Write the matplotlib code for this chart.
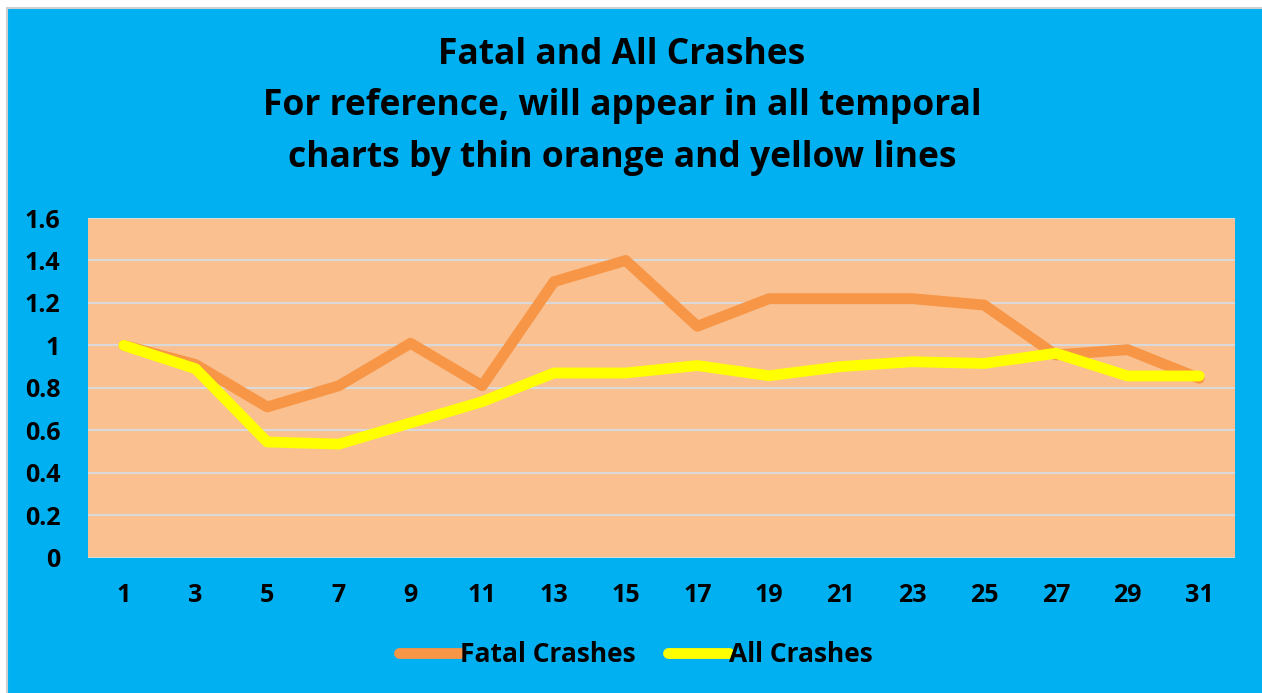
import matplotlib
matplotlib.use("Agg")
import matplotlib.pyplot as plt
from matplotlib.patches import Rectangle

categories = ["1", "3", "5", "7", "9", "11", "13", "15", "17", "19", "21", "23", "25", "27", "29", "31"]
fatal_crashes = [1.00, 0.91, 0.71, 0.81, 1.01, 0.81, 1.30, 1.40, 1.09, 1.22, 1.22, 1.22, 1.19, 0.955, 0.98, 0.845]
all_crashes = [1.00, 0.89, 0.545, 0.535, 0.635, 0.735, 0.87, 0.87, 0.905, 0.857, 0.90, 0.923, 0.915, 0.963, 0.856, 0.856]
y_ticks = [0, 0.2, 0.4, 0.6, 0.8, 1, 1.2, 1.4, 1.6]
y_tick_labels = ["0", "0.2", "0.4", "0.6", "0.8", "1", "1.2", "1.4", "1.6"]
title_lines = ["Fatal and All Crashes",
               "For reference, will appear in all temporal",
               "charts by thin orange and yellow lines"]

plt.rcParams['font.family'] = ['Open Sans', 'DejaVu Sans']

W, H = 1262, 693
fig = plt.figure(figsize=(W / 100, H / 100), dpi=100)
fig.patch.set_facecolor("white")
bg = Rectangle((7 / W, -0.01), 1.01, 1 - 8 / H + 0.01, transform=fig.transFigure,
               facecolor="#00B0F0", edgecolor="#D0D0D0", linewidth=1.5, zorder=-10)
fig.patches.append(bg)

ax = fig.add_axes([88 / W, 1 - 557.7 / H, (1235 - 88) / W, (557.7 - 218) / H])
ax.set_zorder(1)
ax.set_facecolor("#FAC090")
x = list(range(len(categories)))
ax.plot(x, fatal_crashes, color="#F79646", linewidth=7.8, solid_capstyle="round",
        solid_joinstyle="round", label="Fatal Crashes", zorder=3)
ax.plot(x, all_crashes, color="#FFFF00", linewidth=7.8, solid_capstyle="round",
        solid_joinstyle="round", label="All Crashes", zorder=4)

ax.set_xlim(-0.5, len(categories) - 0.5)
ax.set_ylim(0, 1.6)
ax.set_yticks(y_ticks)
ax.set_yticklabels(y_tick_labels, fontsize=18, fontweight="bold")
ax.set_xticks(x)
ax.set_xticklabels(categories, fontsize=18, fontweight="bold")
ax.tick_params(axis="both", length=0)
ax.tick_params(axis="y", pad=20)
ax.tick_params(axis="x", pad=18)
ax.grid(axis="y", color="#D9D9D9", linewidth=1.5)
ax.set_axisbelow(True)
for s in ax.spines.values():
    s.set_visible(False)

ys = [55, 106, 158]
for t, yy in zip(title_lines, ys):
    fig.text(622 / W, 1 - yy / H, t, ha="center", va="center", fontsize=25.5, fontweight="bold")

leg = fig.legend(loc="center", bbox_to_anchor=(636 / W, 1 - 655 / H), ncol=2, frameon=False,
                 prop={"size": 19, "weight": "bold"}, handlelength=2.3, handletextpad=0.0,
                 columnspacing=1.25)

fig.savefig("out.png", dpi=100, facecolor=fig.get_facecolor())
